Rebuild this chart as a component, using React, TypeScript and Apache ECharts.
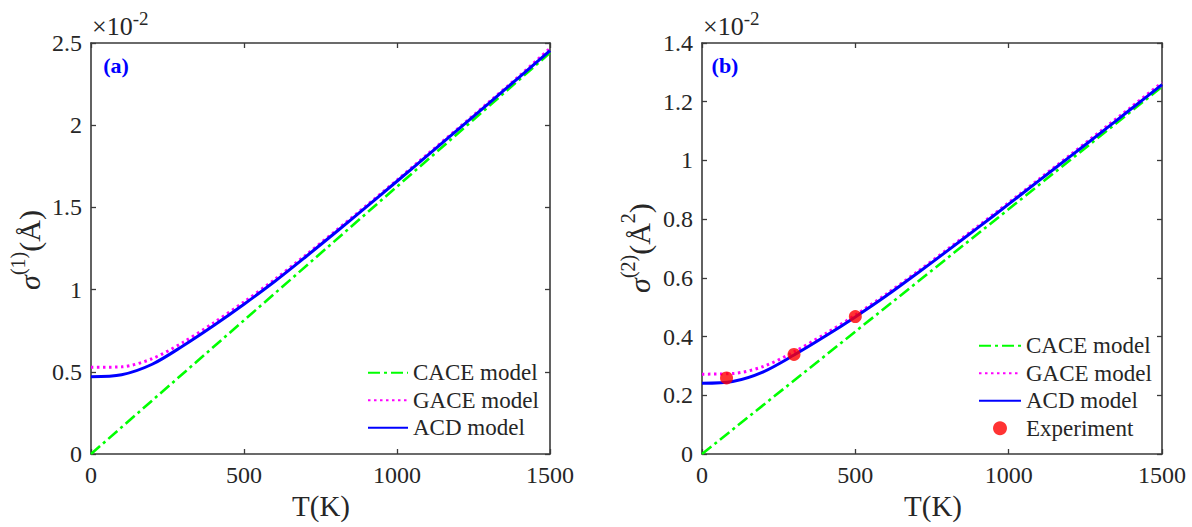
import React, { useEffect, useRef } from "react";
import * as echarts from "echarts";

// Temperatures (K)
const temps = [0, 100, 200, 300, 400, 500, 600, 700, 800, 900, 1000, 1100, 1200, 1300, 1400, 1500];

// Panel (a): sigma^(1) in units of 1e-2 Å
const caceA = [0, 2.44];
const cacePtsT = [0, 1500];
const gaceA = [0.527, 0.530, 0.580, 0.678, 0.797, 0.925, 1.061, 1.207, 1.358, 1.511, 1.666, 1.824, 1.981, 2.140, 2.300, 2.468];
const acdA = [0.470, 0.482, 0.546, 0.657, 0.780, 0.911, 1.049, 1.197, 1.349, 1.503, 1.659, 1.817, 1.975, 2.133, 2.293, 2.453];

// Panel (b): sigma^(2) in units of 1e-2 Å^2
const caceB = [0, 1.251];
const gaceB = [0.272, 0.274, 0.298, 0.348, 0.408, 0.473, 0.544, 0.619, 0.697, 0.776, 0.856, 0.937, 1.018, 1.100, 1.182, 1.265];
const acdB = [0.241, 0.247, 0.280, 0.337, 0.400, 0.467, 0.538, 0.614, 0.692, 0.771, 0.851, 0.932, 1.013, 1.094, 1.176, 1.258];
const expT = [80, 300, 500];
const expB = [0.259, 0.339, 0.468];

const FONT = "'Liberation Serif', 'Times New Roman', serif";
const TXT = "#262626";
const AX = "#3a3a3a";

const zip = (xs: number[], ys: number[]) => xs.map((x, i) => [x, ys[i]]);

export default function App() {
  const ref = useRef<HTMLDivElement>(null);
  useEffect(() => {
    if (!ref.current) return;
    const chart = echarts.init(ref.current, undefined, { renderer: "svg" });

    const grids = [
      { left: 91, top: 43, width: 459, height: 411 },
      { left: 702, top: 43, width: 460, height: 411 },
    ];

    const xBase = (gi: number, pos: "bottom" | "top") => ({
      type: "value",
      gridIndex: gi,
      position: pos,
      min: 0,
      max: 1500,
      interval: 500,
      axisLine: { show: true, onZero: false, lineStyle: { color: AX, width: 1.6 } },
      axisTick: { show: true, inside: true, length: 5, lineStyle: { color: AX, width: 1.3 } },
      axisLabel: {
        show: pos === "bottom",
        fontFamily: FONT,
        fontSize: 24,
        color: TXT,
        margin: 9,
        formatter: (v: number) => String(v),
      },
      splitLine: { show: false },
    });

    const yBase = (gi: number, pos: "left" | "right", max: number, interval: number) => ({
      type: "value",
      gridIndex: gi,
      position: pos,
      min: 0,
      max,
      interval,
      axisLine: { show: true, onZero: false, lineStyle: { color: AX, width: 1.6 } },
      axisTick: { show: true, inside: true, length: 5, lineStyle: { color: AX, width: 1.3 } },
      axisLabel: {
        show: pos === "left",
        fontFamily: FONT,
        fontSize: 24,
        color: TXT,
        margin: 9,
        formatter: (v: number) => String(+v.toFixed(1)),
      },
      splitLine: { show: false },
    });

    const cStyle = { color: "#00ff00", width: 2.6, type: [12, 4, 3, 4] as number[] };
    const gStyle = { color: "#ff00ff", width: 3, type: [2.5, 3.5] as number[] };
    const aStyle = { color: "#0000ff", width: 3, type: "solid" };

    const lineSeries = (name: string, data: number[][], ls: any, idx: number, smooth: boolean, z: number) => ({
      name,
      type: "line",
      xAxisIndex: idx,
      yAxisIndex: idx,
      data,
      symbol: "none",
      showSymbol: false,
      smooth: smooth ? 0.3 : false,
      lineStyle: ls,
      itemStyle: { color: ls.color },
      z,
    });

    const legendText = { fontFamily: FONT, fontSize: 23, color: TXT, lineHeight: 27.5 };
    const hideSym = (name: string) => ({ name, itemStyle: { opacity: 0 } });

    const supRich = (main: number, sup: number, lh: number) => ({
      i: { fontFamily: FONT, fontStyle: "italic", fontSize: main, lineHeight: lh, fill: TXT },
      s: { fontFamily: FONT, fontSize: sup, lineHeight: sup, verticalAlign: "top", fill: TXT },
      n: { fontFamily: FONT, fontSize: main, lineHeight: lh, fill: TXT },
    });

    chart.setOption({
      animation: false,
      backgroundColor: "#ffffff",
      textStyle: { fontFamily: FONT },
      grid: grids.map((g) => ({ ...g, containLabel: false, outerBoundsMode: "none" })),
      xAxis: [xBase(0, "bottom"), xBase(0, "top"), xBase(1, "bottom"), xBase(1, "top")],
      yAxis: [yBase(0, "left", 2.5, 0.5), yBase(0, "right", 2.5, 0.5), yBase(1, "left", 1.4, 0.2), yBase(1, "right", 1.4, 0.2)],
      legend: [
        {
          orient: "vertical",
          left: 367,
          top: 359,
          padding: 0,
          itemGap: 0,
          itemWidth: 40,
          itemHeight: 14,
          textStyle: legendText,
          data: [hideSym("CACE model"), hideSym("GACE model"), hideSym("ACD model")],
          selectedMode: false,
        },
        {
          orient: "vertical",
          left: 978,
          top: 332,
          padding: 0,
          itemGap: 0,
          itemWidth: 42,
          itemHeight: 14,
          textStyle: legendText,
          data: [hideSym("CACE model"), hideSym("GACE model"), hideSym("ACD model"), { name: "Experiment", icon: "circle" }],
          selectedMode: false,
        },
      ],
      series: [
        lineSeries("CACE model", zip(cacePtsT, caceA), cStyle, 0, false, 3),
        lineSeries("GACE model", zip(temps, gaceA), gStyle, 0, true, 4),
        lineSeries("ACD model", zip(temps, acdA), aStyle, 0, true, 5),
        lineSeries("CACE model", zip(cacePtsT, caceB), cStyle, 2, false, 3),
        lineSeries("GACE model", zip(temps, gaceB), gStyle, 2, true, 4),
        lineSeries("ACD model", zip(temps, acdB), aStyle, 2, true, 5),
        {
          name: "Experiment",
          type: "scatter",
          xAxisIndex: 2,
          yAxisIndex: 2,
          data: zip(expT, expB),
          symbol: "circle",
          symbolSize: 13,
          itemStyle: { color: "#ff0000" },
          z: 6,
        },
      ],
      graphic: [
        {
          type: "text",
          x: 321,
          y: 506,
          style: { text: "T(K)", fontFamily: FONT, fontSize: 29, fill: TXT, align: "center", verticalAlign: "middle" },
        },
        {
          type: "text",
          x: 933,
          y: 506,
          style: { text: "T(K)", fontFamily: FONT, fontSize: 29, fill: TXT, align: "center", verticalAlign: "middle" },
        },
        {
          type: "text",
          x: 29,
          y: 250,
          rotation: Math.PI / 2,
          style: {
            text: "{i|σ}{s|(1)}{n|(Å)}",
            align: "center",
            verticalAlign: "middle",
            fill: TXT,
            rich: supRich(30, 20, 42),
          },
        },
        {
          type: "text",
          x: 639,
          y: 248,
          rotation: Math.PI / 2,
          style: {
            text: "{i|σ}{s|(2)}{n|(Å}{s|2}{n|)}",
            align: "center",
            verticalAlign: "middle",
            fill: TXT,
            rich: supRich(30, 20, 42),
          },
        },
        {
          type: "text",
          x: 92,
          y: 26,
          style: {
            text: "{n|×10}{s|-2}",
            align: "left",
            verticalAlign: "middle",
            rich: {
              n: { fontFamily: FONT, fontSize: 26, lineHeight: 34, fill: TXT },
              s: { fontFamily: FONT, fontSize: 19, lineHeight: 19, verticalAlign: "top", fill: TXT },
            },
          },
        },
        {
          type: "text",
          x: 703,
          y: 26,
          style: {
            text: "{n|×10}{s|-2}",
            align: "left",
            verticalAlign: "middle",
            rich: {
              n: { fontFamily: FONT, fontSize: 26, lineHeight: 34, fill: TXT },
              s: { fontFamily: FONT, fontSize: 19, lineHeight: 19, verticalAlign: "top", fill: TXT },
            },
          },
        },
        {
          type: "text",
          x: 116,
          y: 65,
          style: { text: "(a)", fontFamily: FONT, fontWeight: "bold", fontSize: 22, fill: "#0000ff", align: "center", verticalAlign: "middle" },
        },
        {
          type: "text",
          x: 725,
          y: 65,
          style: { text: "(b)", fontFamily: FONT, fontWeight: "bold", fontSize: 22, fill: "#0000ff", align: "center", verticalAlign: "middle" },
        },
      ],
    });
    return () => chart.dispose();
  }, []);

  return (
    <div
      ref={ref}
      style={{ position: "fixed", left: 0, top: 0, width: 1192, height: 527, background: "#fff" }}
    />
  );
}
